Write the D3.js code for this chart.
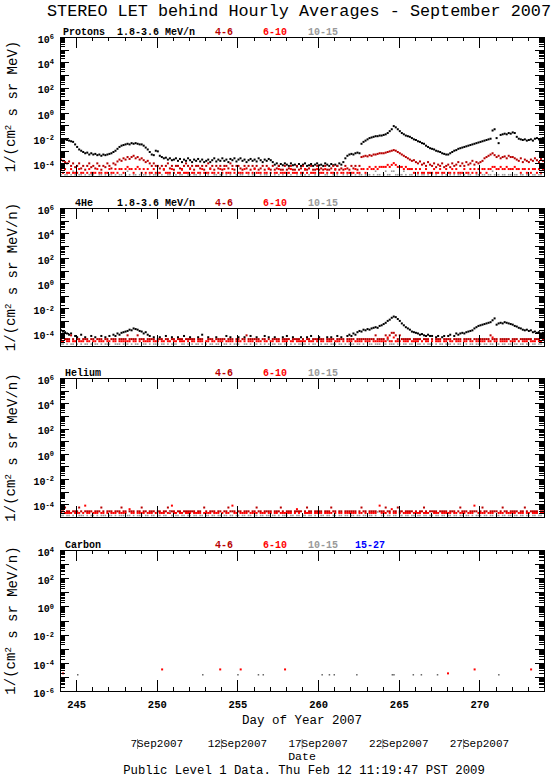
<!DOCTYPE html>
<html>
<head>
<meta charset="utf-8">
<script src="https://cdn.jsdelivr.net/npm/d3@7"></script>
<style>
  body { margin: 0; background: #fff; }
  svg { display: block; }
  text { font-family: "Liberation Mono", "DejaVu Sans Mono", monospace; fill: #000; }
</style>
</head>
<body>
<svg id="chart" width="555" height="778"></svg>
<script>
// time axis: day of year, one value every 3 hours
var DAY_START = 244, DAY_END = 274, STEP = 0.125;
var dayTicks = [245, 250, 255, 260, 265, 270];
var dateDays = [250, 255, 260, 265, 270];
var dateLabels = ["7Sep2007", "12Sep2007", "17Sep2007", "22Sep2007", "27Sep2007"];

var energyBins = ["4-6", "6-10", "10-15", "15-27"];
var binColours = ["#b80000", "#ff0000", "#999999", "#0000ff"];

// Protons 1.8-3.6 MeV/n, log10 flux
var protonLow = [
  -2.07,-2.1,-2.1,-2.15,-2.2,-2.25,-2.3,-2.5,
  -2.7,-2.9,-3.0,-3.1,-3.2,-3.15,-3.3,-3.2,
  -3.3,-3.25,-3.35,-3.3,-3.4,-3.3,-3.35,-3.3,
  -3.25,-3.2,-3.1,-3.0,-2.85,-2.7,-2.6,-2.55,
  -2.5,-2.45,-2.5,-2.4,-2.45,-2.4,-2.45,-2.5,
  -2.5,-2.6,-2.75,-2.9,-3.1,-3.3,-3.35,-3.0,
  -3.05,-3.4,-3.5,-3.6,-3.55,-3.7,-3.6,-3.75,
  -3.7,-3.6,-3.8,-3.65,-3.9,-3.7,-3.8,-3.6,
  -3.75,-3.9,-3.7,-3.8,-3.65,-3.85,-3.7,-3.9,
  -3.8,-3.7,-3.9,-3.75,-3.6,-3.85,-3.7,-3.8,
  -3.6,-3.8,-3.7,-3.9,-3.65,-3.75,-3.6,-3.85,
  -3.7,-3.6,-3.8,-3.7,-3.9,-3.75,-3.65,-3.8,
  -3.7,-3.85,-3.6,-3.75,-3.9,-3.7,-3.8,-3.65,
  -3.75,-3.9,-4.1,-4.0,-4.2,-4.05,-4.15,-4.0,
  -4.1,-4.2,-4.0,-4.15,-4.1,-4.25,-4.05,-4.2,
  -4.1,-4.0,-4.2,-4.15,-4.05,-4.2,-4.1,-4.0,
  -4.15,-4.1,-4.2,-4.0,-4.1,-4.2,-4.05,-4.15,
  -4.1,-4.2,-4.0,-4.1,-3.9,-3.6,-3.4,-3.3,
  -3.25,-3.3,-3.2,-3.15,-3.2,-2.45,-2.3,-2.2,
  -2.1,-2.0,-1.95,-1.9,-1.85,-1.85,-1.8,-1.8,
  -1.75,-1.7,-1.6,-1.45,-1.3,-1.05,-1.15,-1.3,
  -1.45,-1.6,-1.7,-1.8,-1.85,-1.9,-2.0,-2.1,
  -2.15,-2.25,-2.3,-2.4,-2.45,-2.6,-2.7,-2.8,
  -2.85,-2.9,-3.0,-3.05,-3.1,-3.2,-3.25,-3.3,
  -3.3,-3.2,-3.1,-3.0,-2.95,-2.85,-2.8,-2.75,
  -2.7,-2.65,-2.6,-2.55,-2.5,-2.45,-2.4,-2.35,
  -2.3,-2.25,-2.2,-2.15,-2.1,-2.05,-1.4,-1.3,
  -2.0,-2.4,-1.75,-1.7,-1.65,-1.7,-1.6,-1.65,
  -1.55,-1.6,-1.9,-2.05,-2.1,-2.15,-2.1,-2.2,
  -2.15,-2.1,-2.2,-2.05,-2.0,-2.1,-2.05,-2.0
];

// Protons 4-6 MeV/n, log10 flux
var proton46 = [
  -3.7,-3.8,-3.9,-4.0,-3.85,-4.2,-4.0,-4.3,
  -4.2,-4.0,-4.4,-4.2,-4.5,-4.2,-4.0,-4.3,
  -4.2,-4.4,-4.0,-4.2,-4.5,-4.2,-4.3,-4.0,
  -4.2,-4.4,-4.0,-4.1,-3.85,-3.7,-3.8,-3.6,
  -3.7,-3.5,-3.65,-3.5,-3.4,-3.6,-3.5,-3.7,
  -3.6,-3.75,-3.9,-3.8,-4.0,-4.2,-4.0,-4.2,
  -4.2,-4.4,-4.2,-4.5,-4.2,-4.0,-4.4,-4.2,
  -4.5,-4.2,-4.2,-4.4,-4.5,-4.2,-4.0,-4.2,
  -4.4,-4.2,-4.5,-4.2,-4.2,-4.4,-4.2,-4.5,
  -4.2,-4.0,-4.4,-4.2,-4.5,-4.2,-4.4,-4.2,
  -4.5,-4.2,-4.2,-4.4,-4.0,-4.2,-4.5,-4.2,
  -4.2,-4.4,-4.5,-4.2,-4.4,-4.2,-4.5,-4.2,
  -4.4,-4.2,-4.5,-4.4,-4.2,-4.5,-4.2,-4.4,
  -4.5,-4.2,-4.5,-4.4,-4.2,-4.5,-4.5,-4.2,
  -4.5,-4.4,-4.2,-4.5,-4.5,-4.2,-4.5,-4.4,
  -4.2,-4.5,-4.5,-4.4,-4.2,-4.5,-4.5,-4.2,
  -4.5,-4.4,-4.5,-4.2,-4.5,-4.5,-4.4,-4.2,
  -4.5,-4.2,-4.5,-4.4,-4.5,-4.2,-4.4,-4.5,
  -4.2,-4.4,-4.2,-4.5,-4.2,-3.5,-3.45,-3.4,
  -3.45,-3.35,-3.4,-3.3,-3.3,-3.25,-3.2,-3.2,
  -3.2,-3.15,-3.1,-3.05,-3.0,-2.95,-3.0,-3.1,
  -3.2,-3.3,-3.4,-3.5,-3.6,-3.7,-3.8,-3.75,
  -3.9,-4.0,-3.85,-4.1,-4.0,-4.2,-3.9,-4.1,
  -4.2,-4.0,-4.3,-4.1,-4.2,-4.0,-4.3,-4.2,
  -4.1,-4.3,-4.0,-4.2,-4.1,-3.9,-4.2,-4.0,
  -4.2,-3.9,-4.1,-4.0,-3.8,-4.1,-3.9,-4.0,
  -3.9,-3.8,-3.6,-3.5,-3.4,-3.3,-3.2,-3.35,
  -3.5,-3.4,-3.6,-3.5,-3.45,-3.6,-3.4,-3.5,
  -3.5,-3.6,-3.7,-3.8,-3.6,-3.9,-3.7,-3.8,
  -3.9,-3.7,-3.8,-3.6,-3.75,-3.9,-3.65,-3.8
];

// Protons 6-10 MeV/n: count levels (0 = no point) and their log10 flux
var proton610Levels = [null, -4.75, -4.45, -4.28, -4.12, -3.98];
var proton610 = [
  2,1,2,1,1,2,1,1, 1,2,1,1,0,1,2,1, 1,1,2,1,1,0,1,1, 2,1,1,2,1,2,2,1,
  2,3,2,2,1,2,3,2, 1,2,1,2,1,1,2,1, 1,1,0,2,1,1,1,2, 1,0,1,1,2,1,1,1,
  2,1,1,0,1,1,2,1, 1,1,2,1,1,0,1,2, 1,2,1,1,1,2,1,0, 1,1,1,2,1,1,0,1,
  2,1,1,1,0,1,1,2, 1,0,1,1,2,1,1,1, 1,1,2,1,1,1,0,1, 1,2,1,0,1,1,1,2,
  1,1,1,2,1,0,1,1, 2,1,0,1,1,2,1,1, 1,1,2,1,1,2,2,1, 2,3,2,2,3,2,3,3,
  3,3,4,3,4,5,4,3, 3,3,2,3,2,2,2,1, 2,1,2,1,1,2,1,1, 1,2,1,1,2,1,1,2,
  1,1,2,1,2,1,1,1, 2,1,1,2,1,2,1,2, 1,2,2,1,2,2,3,3, 2,2,3,2,2,3,2,2,
  2,3,2,2,1,2,2,1, 2,1,2,2,1,2,1,2
];

// Protons 10-15 MeV/n
var proton1015Levels = [null, -4.9, -4.62];
var proton1015 = [
  1,0,1,1,0,1,2,1, 0,1,1,0,1,0,1,1, 1,0,0,1,1,0,1,0, 1,1,0,1,0,1,1,0,
  1,2,1,0,1,1,0,1, 0,1,1,0,1,0,1,1, 1,0,1,0,0,1,1,0, 0,1,0,1,1,0,0,1,
  1,0,1,1,0,1,0,0, 0,1,0,0,1,1,0,1, 1,0,1,0,1,0,0,1, 0,1,1,0,0,1,0,1,
  1,0,0,1,0,1,1,0, 0,0,1,0,1,0,1,0, 1,0,1,0,0,1,0,1, 0,1,0,1,0,0,1,0,
  1,0,0,1,1,0,0,1, 0,1,0,0,1,0,1,0, 1,0,1,0,1,1,0,1, 1,1,0,1,2,1,1,0,
  1,2,1,1,2,2,1,1, 1,1,2,1,0,1,1,0, 0,1,0,1,1,0,1,0, 1,0,1,0,0,1,0,1,
  0,1,0,1,0,1,1,0, 1,0,1,1,0,0,1,1, 0,1,1,0,1,1,2,1, 1,1,0,1,1,0,1,1,
  0,1,1,0,1,1,0,1, 1,0,1,1,0,1,1,0
];

// 4He 1.8-3.6 MeV/n, log10 flux (null = no counts)
var he4Low = [
  -3.75,-3.85,-3.9,-4.0,-4.1,-4.0,null,-4.2,
  -4.3,null,-4.1,null,-4.3,null,null,-4.2,
  null,-4.3,null,null,-4.2,null,-4.3,null,
  -4.2,null,-4.1,-4.2,-4.0,-4.1,-3.95,-3.9,
  -3.85,-3.8,-3.7,-3.75,-3.6,-3.65,-3.7,-3.8,
  -3.85,-4.0,-3.9,-4.1,-4.2,null,-4.3,null,
  null,-4.3,null,null,-4.2,null,null,-4.3,
  null,null,-4.3,null,null,-4.2,null,null,
  -4.3,null,null,null,-4.3,null,-4.1,null,
  null,-4.3,null,null,null,-4.3,null,null,
  null,null,-4.2,null,-4.3,null,null,null,
  -4.3,null,null,-4.3,null,null,-4.2,null,
  null,-4.3,null,null,null,-4.2,null,-4.3,
  null,null,-4.3,null,null,null,-4.3,null,
  -4.2,null,null,-4.3,null,null,null,-4.3,
  null,null,-4.3,null,-4.2,null,null,null,
  -4.3,null,null,null,-4.3,null,-4.3,null,
  null,-4.2,null,-4.3,null,null,-4.2,-4.1,
  -4.2,-4.0,-4.1,-3.9,-3.8,-3.85,-3.7,-3.75,
  -3.65,-3.7,-3.6,-3.55,-3.5,-3.55,-3.4,-3.35,
  -3.25,-3.15,-3.0,-2.9,-2.75,-2.65,-2.7,-2.85,
  -3.0,-3.2,-3.35,-3.5,-3.6,-3.7,-3.85,-3.9,
  -3.95,-4.0,-4.1,-4.05,-4.15,-4.2,-4.1,-4.2,
  -4.2,null,-4.3,-4.2,null,-4.3,-4.2,null,
  -4.2,-4.1,null,-4.2,-4.0,-4.1,-4.0,-3.95,
  -4.0,-3.9,-3.85,-3.8,-3.75,-3.6,-3.5,-3.4,
  -3.35,-3.3,-3.25,-3.2,-3.15,-3.1,-2.95,-2.8,
  -3.3,-3.2,-3.15,-3.2,-3.1,-3.15,-3.2,-3.25,
  -3.3,-3.4,-3.45,-3.55,-3.6,-3.7,-3.75,-3.7,
  -3.8,-3.75,-3.9,-3.85,-3.95,-3.9,-4.0,-3.95
];

var he46Levels = [null, -4.45, -4.15, -3.95];
var he46 = [
  1,2,1,1,1,2,1,0, 1,1,0,1,1,1,0,1, 1,0,1,1,1,0,1,1, 0,1,1,1,0,1,1,1,
  1,2,1,1,1,1,2,1, 1,1,0,1,1,1,1,0, 1,1,1,0,1,1,0,1, 1,0,1,1,1,0,1,1,
  1,1,1,0,1,1,1,0, 0,1,1,1,0,1,1,1, 1,1,0,1,1,1,0,1, 1,0,1,1,2,1,1,1,
  1,1,1,0,1,1,0,1, 0,1,1,1,1,0,1,1, 1,1,0,1,1,1,1,0, 1,0,1,1,0,1,1,1,
  1,1,1,0,1,1,1,1, 0,1,1,1,1,0,1,1, 1,1,0,1,1,1,1,1, 1,1,1,1,2,1,1,1,
  1,2,1,2,3,3,2,1, 2,1,1,1,1,1,0,1, 1,1,1,0,1,1,1,0, 1,0,1,1,1,0,1,1,
  1,1,0,1,1,1,1,0, 1,1,1,1,0,1,1,1, 1,1,1,1,1,2,1,1, 1,0,1,1,1,1,1,0,
  1,1,1,0,1,1,1,1, 1,1,0,1,1,1,0,1
];

var he610Levels = [null, -4.62, -4.32];
var he610 = [
  1,1,0,1,1,0,1,1, 0,1,1,1,0,1,1,0, 1,1,0,1,1,1,0,1, 1,0,1,1,0,1,1,1,
  1,1,1,0,1,1,0,1, 0,1,1,1,1,0,1,1, 1,0,1,1,0,1,1,0, 1,1,0,1,1,1,0,1,
  0,1,1,0,1,1,1,0, 1,1,0,1,1,0,1,1, 1,0,1,1,1,1,0,1, 1,1,0,1,0,1,1,1,
  0,1,1,1,0,1,1,0, 1,1,0,1,1,0,1,1, 1,0,1,1,0,1,1,1, 1,1,0,1,1,1,0,1,
  0,1,1,0,1,1,1,0, 1,1,1,0,1,0,1,1, 1,0,1,1,1,1,0,1, 1,1,0,1,1,1,1,1,
  1,1,2,1,1,2,1,1, 1,0,1,1,1,0,1,1, 1,1,0,1,0,1,1,0, 1,0,1,1,1,0,1,1,
  0,1,1,0,1,1,1,0, 1,1,0,1,1,0,1,1, 1,1,1,0,1,1,2,1, 1,0,1,1,1,1,0,1,
  1,1,0,1,0,1,1,1, 0,1,1,1,0,1,1,0
];

var he1015Levels = [null, -4.85, -4.55];
var he1015 = [
  1,1,0,1,0,1,1,0, 1,0,1,0,1,1,0,1, 0,1,1,0,1,0,1,1, 1,0,0,1,1,1,0,1,
  1,1,0,1,0,1,1,0, 0,1,1,0,1,0,1,1, 1,0,1,1,0,1,0,1, 1,1,0,0,1,1,0,1,
  0,1,0,1,1,0,1,0, 1,0,1,1,0,1,1,0, 0,1,1,0,1,0,1,1, 1,0,0,1,1,0,1,0,
  1,1,0,1,0,1,0,1, 0,1,1,0,1,1,0,1, 1,0,1,0,1,0,1,1, 1,1,0,1,0,1,1,0,
  0,1,0,1,1,0,1,1, 1,0,1,1,0,1,0,1, 1,1,0,1,1,0,1,0, 0,1,1,0,1,1,1,0,
  1,1,2,1,1,1,0,1, 1,0,1,1,0,1,1,0, 0,1,1,0,1,0,1,1, 1,0,1,0,1,1,0,1,
  1,1,0,1,0,1,1,0, 0,1,0,1,1,0,1,1, 1,0,1,1,0,1,1,0, 1,1,0,1,1,0,1,1,
  0,1,1,0,1,1,0,1, 1,0,1,1,0,1,1,0
];

// Helium (heavier bins)
var heavy46Levels = [null, -4.55, -4.25, -4.05];
var heavy46 = [
  1,1,2,1,1,0,1,1, 1,2,1,0,1,1,1,1, 0,1,1,1,2,1,0,1, 1,1,0,1,1,1,2,1,
  1,0,1,1,1,0,1,1, 2,1,1,0,1,1,1,0, 1,1,0,1,1,2,1,1, 1,0,1,1,0,1,1,1,
  1,1,1,0,1,1,0,2, 1,0,1,1,1,0,1,1, 0,1,1,2,1,1,1,0, 1,1,0,1,1,1,0,1,
  1,2,1,1,0,1,1,1, 1,0,1,1,1,2,1,0, 1,1,1,0,1,1,1,1, 0,1,2,1,1,0,1,1,
  1,1,0,1,1,1,2,1, 1,0,1,1,0,1,1,1, 1,1,1,0,1,2,1,1, 0,1,1,1,1,0,1,1,
  1,2,1,1,0,1,1,2, 1,1,0,1,1,1,1,0, 1,0,1,1,2,1,0,1, 1,1,1,0,1,1,1,1,
  0,1,1,1,0,1,2,1, 1,1,0,1,1,1,1,0, 1,2,1,1,0,1,1,1, 1,0,1,2,1,1,0,1,
  1,1,1,0,1,1,2,1, 0,1,1,1,1,0,1,1
];

var heavy610Levels = [null, -4.68, -4.38, -4.1];
var heavy610 = [
  1,0,1,1,1,1,0,1, 1,1,0,1,3,1,1,0, 1,1,1,0,1,1,0,1, 0,1,1,1,0,1,1,1,
  1,0,2,1,1,0,1,1, 1,1,0,1,1,1,0,1, 0,1,1,1,0,1,1,3, 1,1,0,1,1,0,1,1,
  1,0,1,1,1,1,0,1, 1,1,1,0,1,1,1,0, 1,0,1,1,0,3,1,1, 0,1,1,1,1,0,1,1,
  1,1,0,1,1,1,0,1, 1,0,1,1,0,1,1,1, 1,1,1,0,1,2,1,0, 0,1,1,1,1,0,1,1,
  1,1,0,1,1,1,1,0, 1,0,1,1,0,1,1,1, 1,1,1,0,1,1,0,1, 0,1,1,1,1,0,3,1,
  1,1,0,1,2,1,1,0, 1,0,1,1,1,1,0,1, 1,1,1,0,1,1,1,0, 0,1,1,1,0,1,1,1,
  1,1,0,1,1,0,1,1, 1,0,1,1,1,3,0,1, 1,1,1,0,1,1,1,0, 0,1,1,1,0,1,1,1,
  1,1,0,1,1,1,0,1, 1,0,1,1,1,0,1,1
];

var heavy1015Levels = [null, -4.88, -4.6];
var heavy1015 = [
  1,1,0,1,1,0,1,0, 0,1,1,1,0,1,0,1, 1,0,1,0,1,1,1,0, 1,1,0,1,0,1,1,1,
  0,1,1,0,1,0,1,1, 1,0,1,1,0,1,1,0, 1,1,0,1,1,0,2,1, 0,1,1,0,1,1,0,1,
  1,0,1,1,0,1,1,0, 1,1,0,1,1,0,1,1, 0,1,1,0,1,1,0,1, 1,0,1,1,0,1,1,0,
  1,1,0,1,1,0,1,1, 0,1,1,0,1,0,1,1, 1,0,1,1,0,1,1,0, 1,1,0,1,1,0,1,0,
  0,1,1,0,1,1,0,1, 1,0,1,1,0,1,1,0, 1,1,0,1,1,0,1,1, 0,1,1,0,1,2,0,1,
  1,0,1,1,0,1,1,0, 1,1,0,1,1,0,1,1, 0,1,1,0,1,1,0,1, 1,0,1,1,0,1,1,0,
  1,1,0,1,1,0,1,1, 0,1,1,0,1,0,1,1, 1,0,1,1,0,1,1,0, 1,1,0,1,1,0,1,1,
  0,1,1,0,1,1,0,1, 1,0,1,1,0,1,1,0
];

// Carbon: only a few isolated hours had counts
var carbon46Days = [244.19, 268.05];
var carbon46Vals = [-4.75, -4.75];
var carbon610Days = [250.33, 253.93, 255.2, 257.95, 269.7, 273.2];
var carbon610Vals = [-4.47, -4.47, -4.47, -4.47, -4.47, -4.47];
var carbon1015Days = [245.1, 252.85, 255.03, 256.3, 256.6, 260.25, 260.7, 261.0,
  262.4, 264.6, 264.7, 265.9, 266.4, 267.4, 271.2];
var carbon1015Vals = [-4.85, -4.85, -4.85, -4.85, -4.85, -4.85, -4.85, -4.85,
  -4.85, -4.85, -4.85, -4.85, -4.85, -4.85, -4.85];

/**
 * Turns count codes into log10 values.
 * @param  {Array} codes  small integers, 0 means nothing measured
 * @param  {Array} levels log10 flux of each code
 * @return {Array}
 */
function fromCodes(codes, levels) {
  "use strict";
  return codes.map(function (c) { return levels[c]; });
}

/**
 * Turns a regular 3-hour series into points.
 * @return {Array} of {day, flux}
 */
function cadencePoints(values) {
  "use strict";
  var pts = [];
  values.forEach(function (v, i) {
    if (v !== null) {
      pts.push({ day: DAY_START + (i + 0.5) * STEP, flux: Math.pow(10, v) });
    }
  });
  return pts;
}

function listPoints(days, vals) {
  "use strict";
  return days.map(function (d, i) { return { day: d, flux: Math.pow(10, vals[i]) }; });
}

var Panel = function (svg, top, bottom, yMin, yMax, opts) {
  "use strict";
  this.svg = svg;
  this.top = top;
  this.bottom = bottom;
  this.left = 60;
  this.right = 544;
  this.opts = opts;
  this.x = d3.scaleLinear().domain([DAY_START, DAY_END]).range([this.left, this.right]);
  this.y = d3.scaleLog().domain([Math.pow(10, yMin), Math.pow(10, yMax)]).range([bottom, top]);
  this.yMin = yMin;
  this.yMax = yMax;
  this.g = svg.append('g');
  this.drawSeries();
  this.drawAxes();
  this.drawLegend();
  this.drawTitle();
};

Panel.prototype.drawSeries = function () {
  "use strict";
  var self = this;
  this.opts.series.forEach(function (s) {
    self.g.append('g').attr('fill', s.colour)
      .selectAll('rect').data(s.points).enter()
      .append('rect')
      .attr('x', function (p) { return self.x(p.day) - s.size / 2; })
      .attr('y', function (p) { return self.y(p.flux) - s.size / 2; })
      .attr('width', s.size)
      .attr('height', s.size);
  });
};

Panel.prototype.drawAxes = function () {
  "use strict";
  var x = this.x, y = this.y, g = this.g;
  var decades = d3.range(this.yMin, this.yMax + 1).map(function (e) { return Math.pow(10, e); });
  var minors = [];
  decades.slice(0, -1).forEach(function (d) {
    for (var k = 2; k < 10; k++) { minors.push(d * k); }
  });
  var labelled = d3.range(this.yMin, this.yMax + 1).filter(function (e) { return e % 2 === 0; });
  var days = d3.range(DAY_START + 1, DAY_END).filter(function (d) { return d % 5 !== 0; });

  var axes = [
    ['translate(' + this.left + ',0)', d3.axisLeft(y).tickValues(decades).tickSize(-9)],
    ['translate(' + this.left + ',0)', d3.axisLeft(y).tickValues(minors).tickSize(-5)],
    ['translate(' + this.right + ',0)', d3.axisRight(y).tickValues(decades).tickSize(-9)],
    ['translate(' + this.right + ',0)', d3.axisRight(y).tickValues(minors).tickSize(-5)],
    ['translate(0,' + this.bottom + ')', d3.axisBottom(x).tickValues(dayTicks).tickSize(-11)],
    ['translate(0,' + this.bottom + ')', d3.axisBottom(x).tickValues(days).tickSize(-4)],
    ['translate(0,' + this.top + ')', d3.axisTop(x).tickValues(dayTicks).tickSize(-11)],
    ['translate(0,' + this.top + ')', d3.axisTop(x).tickValues(days).tickSize(-4)]
  ];
  axes.forEach(function (a) {
    var ag = g.append('g').attr('transform', a[0]).call(a[1].tickFormat(''));
    ag.select('.domain').remove();
    ag.selectAll('line').attr('stroke', '#000').attr('shape-rendering', 'crispEdges');
  });

  g.append('rect')
    .attr('x', this.left + 0.5).attr('y', this.top + 0.5)
    .attr('width', this.right - this.left).attr('height', this.bottom - this.top)
    .attr('fill', 'none').attr('stroke', '#000').attr('shape-rendering', 'crispEdges');

  // 10^n labels
  var lab = g.append('g').attr('transform', 'translate(' + (this.left - 6) + ',2)')
    .call(d3.axisLeft(y).tickValues(labelled.map(function (e) { return Math.pow(10, e); }))
      .tickSize(0).tickPadding(0).tickFormat(''));
  lab.select('.domain').remove();
  lab.attr('font-family', null).attr('font-size', null);
  lab.selectAll('.tick text').each(function (d) {
    var t = d3.select(this).attr('font-size', '10px').attr('font-weight', 'bold');
    t.append('tspan').text('10');
    t.append('tspan').attr('dy', '-0.5em').attr('font-size', '7px').text(Math.round(Math.log10(d)));
  });

  if (this.opts.dayLabels) {
    var xl = g.append('g').attr('transform', 'translate(0,' + this.bottom + ')')
      .call(d3.axisBottom(x).tickValues(dayTicks).tickSize(0).tickPadding(10).tickFormat(d3.format('d')));
    xl.select('.domain').remove();
    xl.attr('font-family', null).attr('font-size', '10.5px').attr('font-weight', 'bold');
  }
};

Panel.prototype.drawLegend = function () {
  "use strict";
  var g = this.g, base = this.top - 2;
  var leg = g.append('g').attr('font-size', '10px').attr('font-weight', 'bold');
  leg.append('text').attr('x', this.opts.nameX).attr('y', base).text(this.opts.name);
  if (this.opts.lowBin) {
    leg.append('text').attr('x', 117).attr('y', base).text(this.opts.lowBin);
  }
  var xs = [215, 263, 308, 355];
  for (var i = 0; i < this.opts.bins; i++) {
    leg.append('text').attr('x', xs[i]).attr('y', base)
      .style('fill', binColours[i]).text(energyBins[i]);
  }
};

Panel.prototype.drawTitle = function () {
  "use strict";
  var t = this.g.append('text')
    .attr('transform', 'translate(15,' + ((this.top + this.bottom) / 2) + ') rotate(-90)')
    .attr('text-anchor', 'middle').attr('font-size', '14px');
  t.append('tspan').text('1/(cm');
  t.append('tspan').attr('dy', '-0.45em').attr('font-size', '9px').text('2');
  t.append('tspan').attr('dy', '0.45em').text(' s sr ' + this.opts.unit + ')');
};

var svg = d3.select('#chart');
svg.append('rect').attr('width', 555).attr('height', 778).attr('fill', '#fff');

svg.append('text').attr('x', 47).attr('y', 15.5)
  .attr('font-size', '16px').attr('textLength', 504).attr('lengthAdjust', 'spacingAndGlyphs')
  .text('STEREO LET behind Hourly Averages - September 2007');

new Panel(svg, 37, 176, -5, 6, {
  name: 'Protons', nameX: 63, lowBin: '1.8-3.6 MeV/n', bins: 3, unit: 'MeV',
  series: [
    { points: cadencePoints(protonLow), colour: '#000', size: 2 },
    { points: cadencePoints(proton46), colour: binColours[0], size: 2 },
    { points: cadencePoints(fromCodes(proton610, proton610Levels)), colour: binColours[1], size: 2 },
    { points: cadencePoints(fromCodes(proton1015, proton1015Levels)), colour: binColours[2], size: 1.6 }
  ]
});

new Panel(svg, 208, 346, -5, 6, {
  name: '4He', nameX: 75, lowBin: '1.8-3.6 MeV/n', bins: 3, unit: 'MeV/n',
  series: [
    { points: cadencePoints(he4Low), colour: '#000', size: 2 },
    { points: cadencePoints(fromCodes(he46, he46Levels)), colour: binColours[0], size: 2 },
    { points: cadencePoints(fromCodes(he610, he610Levels)), colour: binColours[1], size: 2 },
    { points: cadencePoints(fromCodes(he1015, he1015Levels)), colour: binColours[2], size: 1.6 }
  ]
});

new Panel(svg, 378, 517, -5, 6, {
  name: 'Helium', nameX: 65, bins: 3, unit: 'MeV/n',
  series: [
    { points: cadencePoints(fromCodes(heavy46, heavy46Levels)), colour: binColours[0], size: 2 },
    { points: cadencePoints(fromCodes(heavy610, heavy610Levels)), colour: binColours[1], size: 2 },
    { points: cadencePoints(fromCodes(heavy1015, heavy1015Levels)), colour: binColours[2], size: 1.6 }
  ]
});

new Panel(svg, 550, 691, -6, 4, {
  name: 'Carbon', nameX: 65, bins: 4, unit: 'MeV/n', dayLabels: true,
  series: [
    { points: listPoints(carbon46Days, carbon46Vals), colour: binColours[1], size: 2 },
    { points: listPoints(carbon610Days, carbon610Vals), colour: binColours[1], size: 2 },
    { points: listPoints(carbon1015Days, carbon1015Vals), colour: '#666', size: 1.5 }
  ]
});

var xDate = d3.scaleLinear().domain([DAY_START, DAY_END]).range([60, 544]);
svg.append('text').attr('x', 302).attr('y', 724).attr('text-anchor', 'middle')
  .attr('font-size', '12.5px').text('Day of Year 2007');

var charW = 11 * 0.6;
dateLabels.forEach(function (lbl, i) {
  var cx = xDate(dateDays[i]);
  var start = cx - lbl.length * charW / 2;
  var digits = lbl.indexOf('S');
  svg.append('line').attr('x1', start + digits * charW + 0.5).attr('x2', start + digits * charW + 0.5)
    .attr('y1', 739).attr('y2', 749).attr('stroke', '#888');
  svg.append('text').attr('x', cx).attr('y', 747).attr('text-anchor', 'middle')
    .attr('font-size', '11px').text(lbl);
});
svg.append('text').attr('x', 302).attr('y', 760).attr('text-anchor', 'middle')
  .attr('font-size', '11.5px').text('Date');
svg.append('text').attr('x', 304).attr('y', 774).attr('text-anchor', 'middle')
  .attr('font-size', '12.3px').text('Public Level 1 Data. Thu Feb 12 11:19:47 PST 2009');
</script>
</body>
</html>
